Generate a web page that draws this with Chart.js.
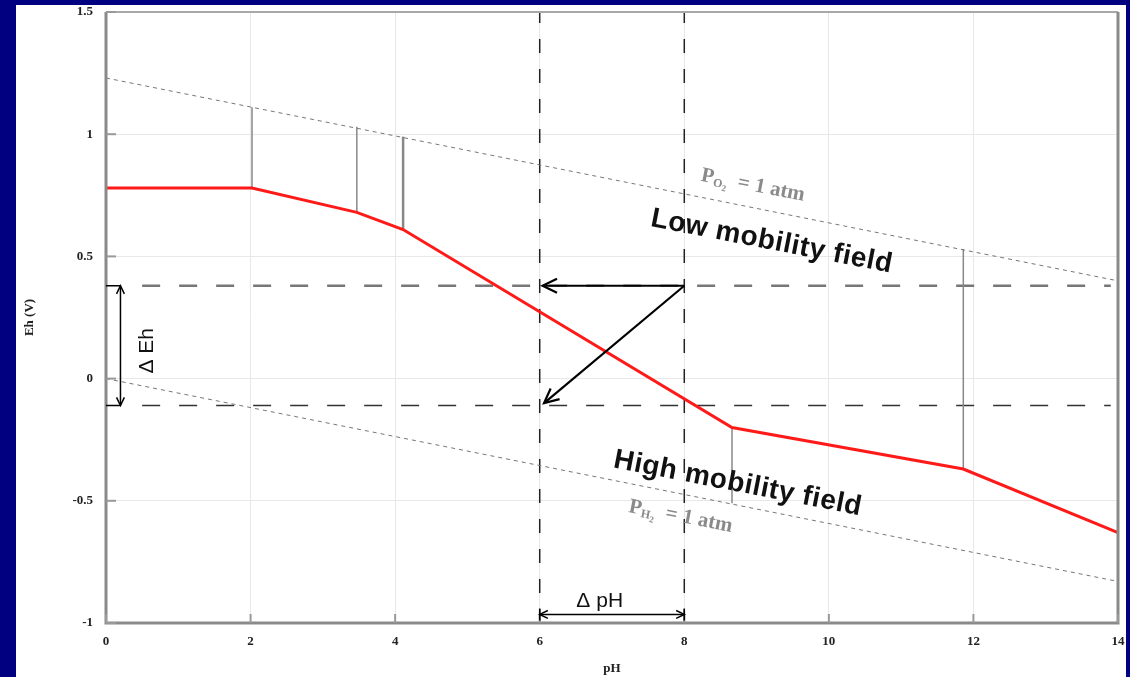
<!DOCTYPE html>
<html>
<head>
<meta charset="utf-8">
<script src="https://cdn.jsdelivr.net/npm/chart.js@4.4.0/dist/chart.umd.min.js"></script>
<style>
  html, body { margin: 0; padding: 0; background: #000080; }
  #wrap { width: 1130px; height: 677px; position: relative; }
</style>
</head>
<body>
<div id="wrap"><canvas id="c" width="1130" height="677"></canvas></div>
<script>
// Eh-pH diagram values
const phTicks = [0, 2, 4, 6, 8, 10, 12, 14];
const ehTicks = [-1, -0.5, 0, 0.5, 1, 1.5];

// red boundary curve
const curvePH = [0, 2.02, 3.47, 4.11, 8.66, 11.86, 14];
const curveEh = [0.78, 0.78, 0.68, 0.61, -0.2, -0.37, -0.63];

// water stability limits (PO2 = 1 atm / PH2 = 1 atm)
const limitPH = [0, 14];
const o2Eh = [1.23, 0.40];
const h2Eh = [0.0, -0.83];

// vertical species boundaries
const vertPH = [2.02, 3.47, 4.11, 8.66, 11.86];
const vertTop = [1.11, 1.03, 0.99, -0.2, 0.53];
const vertBottom = [0.78, 0.68, 0.61, -0.51, -0.37];

// delta window
const windowPH = [6, 8];
const windowEh = [0.38, -0.11];
const hLinePH = [0.5, 13.9];
const arrowToPH = [6.04, 6.06];
const arrowToEh = [0.38, -0.10];
const deltaEhPH = 0.2;
const deltaPhEh = -0.965;

const pts = (xs, ys) => xs.map((x, i) => ({ x: x, y: ys[i] }));

const datasets = [];
datasets.push({ data: pts(curvePH, curveEh), borderColor: '#ff1a1a', borderWidth: 3 });
datasets.push({ data: pts(limitPH, o2Eh), borderColor: '#777', borderWidth: 1, borderDash: [4, 4] });
datasets.push({ data: pts(limitPH, h2Eh), borderColor: '#777', borderWidth: 1, borderDash: [4, 4] });
vertPH.forEach((p, i) => {
  datasets.push({
    data: [{ x: p, y: vertBottom[i] }, { x: p, y: vertTop[i] }],
    borderColor: '#888', borderWidth: i === 2 ? 2.5 : 1.5
  });
});
windowPH.forEach(p => {
  datasets.push({
    data: [{ x: p, y: -1 }, { x: p, y: 1.5 }],
    borderColor: '#222', borderWidth: 1.5, borderDash: [14, 16]
  });
});
datasets.push({ data: pts(hLinePH, [windowEh[0], windowEh[0]]), borderColor: '#777', borderWidth: 2.5, borderDash: [18, 19] });
datasets.push({ data: pts(hLinePH, [windowEh[1], windowEh[1]]), borderColor: '#333', borderWidth: 1.5, borderDash: [18, 19] });
datasets.forEach(d => { d.showLine = true; d.pointRadius = 0; d.fill = false; });

function arrowHead(ctx, x1, y1, x2, y2, len) {
  const a = Math.atan2(y2 - y1, x2 - x1);
  const w = 0.45;
  ctx.beginPath();
  ctx.moveTo(x2 - len * Math.cos(a - w), y2 - len * Math.sin(a - w));
  ctx.lineTo(x2, y2);
  ctx.lineTo(x2 - len * Math.cos(a + w), y2 - len * Math.sin(a + w));
  ctx.stroke();
}

function rotText(ctx, parts, cx, cy, deg, spacing) {
  // parts: [text, font, dy]
  ctx.save();
  ctx.translate(cx, cy);
  ctx.rotate(deg * Math.PI / 180);
  ctx.letterSpacing = (spacing || 0) + 'px';
  let total = 0;
  parts.forEach(p => { ctx.font = p[1]; total += ctx.measureText(p[0]).width; });
  let x = -total / 2;
  ctx.textBaseline = 'middle';
  ctx.textAlign = 'left';
  parts.forEach(p => {
    ctx.font = p[1];
    ctx.fillText(p[0], x, p[2] || 0);
    x += ctx.measureText(p[0]).width;
  });
  ctx.restore();
}

const decor = {
  id: 'decor',
  beforeDraw(chart) {
    const ctx = chart.ctx;
    ctx.save();
    ctx.fillStyle = '#000080';
    ctx.fillRect(0, 0, chart.width, chart.height);
    ctx.fillStyle = '#ffffff';
    ctx.fillRect(16, 5, 1110, 672);
    ctx.restore();
  },
  afterDatasetsDraw(chart) {
    const ctx = chart.ctx;
    const xs = chart.scales.x, ys = chart.scales.y;
    const a = chart.chartArea;
    const X = v => xs.getPixelForValue(v), Y = v => ys.getPixelForValue(v);
    ctx.save();

    // frame
    ctx.strokeStyle = '#a8a8a8';
    ctx.lineWidth = 2;
    ctx.beginPath(); ctx.moveTo(a.left, a.top); ctx.lineTo(a.right, a.top); ctx.stroke();
    ctx.strokeStyle = '#8a8a8a';
    ctx.lineWidth = 3;
    ctx.beginPath();
    ctx.moveTo(a.left, a.top); ctx.lineTo(a.left, a.bottom); ctx.lineTo(a.right, a.bottom); ctx.lineTo(a.right, a.top);
    ctx.stroke();
    // inward ticks
    ctx.strokeStyle = '#999';
    ctx.lineWidth = 2;
    phTicks.forEach(t => { ctx.beginPath(); ctx.moveTo(X(t), a.bottom); ctx.lineTo(X(t), a.bottom - 9); ctx.stroke(); });
    ehTicks.forEach(t => { ctx.beginPath(); ctx.moveTo(a.left, Y(t)); ctx.lineTo(a.left + 10, Y(t)); ctx.stroke(); });

    // main arrows
    ctx.strokeStyle = '#000';
    ctx.lineWidth = 2.2;
    const fx = X(windowPH[1]), fy = Y(windowEh[0]);
    arrowToPH.forEach((p, i) => {
      const tx = X(p), ty = Y(arrowToEh[i]);
      ctx.beginPath(); ctx.moveTo(fx, fy); ctx.lineTo(tx, ty); ctx.stroke();
      arrowHead(ctx, fx, fy, tx, ty, 16);
    });

    // delta Eh
    ctx.lineWidth = 1.5;
    const ex = X(deltaEhPH), e1 = Y(windowEh[0]), e2 = Y(windowEh[1]);
    ctx.beginPath();
    ctx.moveTo(a.left, e1); ctx.lineTo(ex, e1);
    ctx.moveTo(a.left, e2); ctx.lineTo(ex, e2);
    ctx.moveTo(ex, e1); ctx.lineTo(ex, e2);
    ctx.stroke();
    arrowHead(ctx, ex, e2, ex, e1, 9);
    arrowHead(ctx, ex, e1, ex, e2, 9);

    // delta pH
    const py = Y(deltaPhEh), p1 = X(windowPH[0]), p2 = X(windowPH[1]);
    ctx.beginPath();
    ctx.moveTo(p1, py); ctx.lineTo(p2, py);
    ctx.moveTo(p1, py - 6); ctx.lineTo(p1, py + 6);
    ctx.moveTo(p2, py - 6); ctx.lineTo(p2, py + 6);
    ctx.stroke();
    arrowHead(ctx, p2, py, p1, py, 9);
    arrowHead(ctx, p1, py, p2, py, 9);

    // labels
    ctx.fillStyle = '#111';
    const sans = '"Liberation Sans", Arial, sans-serif';
    const serif = '"Liberation Serif", "Times New Roman", serif';
    rotText(ctx, [['Low mobility field', 'bold 28px ' + sans]], X(9.21), Y(0.56), 11, 0.5);
    rotText(ctx, [['High mobility field', 'bold 28px ' + sans]], X(8.74), Y(-0.43), 11, 0.5);
    rotText(ctx, [['\u0394 pH', '21px ' + sans]], X(6.83), Y(-0.91), 0);
    rotText(ctx, [['\u0394 Eh', '21px ' + sans]], X(0.57), Y(0.114), -90);
    ctx.fillStyle = '#8a8a8a';
    rotText(ctx, [
      ['P', 'bold 21px ' + serif, 0],
      ['O', 'bold 12px ' + serif, 5],
      ['2', 'bold 9px ' + serif, 9],
      ['  = 1 atm', 'bold 21px ' + serif, 0]
    ], X(8.95), Y(0.79), 11);
    rotText(ctx, [
      ['P', 'bold 21px ' + serif, 0],
      ['H', 'bold 12px ' + serif, 5],
      ['2', 'bold 9px ' + serif, 9],
      ['  = 1 atm', 'bold 21px ' + serif, 0]
    ], X(7.95), Y(-0.565), 11);
    ctx.restore();
  }
};

const tickFont = { family: '"Liberation Serif", "Times New Roman", serif', size: 13, weight: 'bold' };

new Chart(document.getElementById('c'), {
  type: 'scatter',
  data: { datasets: datasets },
  options: {
    responsive: false,
    animation: false,
    events: [],
    layout: { padding: { left: 0, right: 12, top: 12, bottom: 0 } },
    plugins: { legend: { display: false }, tooltip: { enabled: false } },
    scales: {
      x: {
        type: 'linear', min: 0, max: 14,
        afterFit: s => { s.height = 54; s.paddingLeft = 0; s.paddingRight = 0; },
        afterBuildTicks: s => { s.ticks = phTicks.map(v => ({ value: v })); },
        ticks: { font: tickFont, color: '#222', padding: 11, maxRotation: 0, callback: v => String(v) },
        grid: { color: '#e8e8e8', lineWidth: 1, drawTicks: false },
        border: { display: false },
        title: { display: true, text: 'pH', font: tickFont, color: '#222', padding: { top: 1, bottom: 1 } }
      },
      y: {
        type: 'linear', min: -1, max: 1.5,
        afterFit: s => { s.width = 106; s.paddingTop = 0; s.paddingBottom = 0; },
        afterBuildTicks: s => { s.ticks = ehTicks.map(v => ({ value: v })); },
        ticks: { font: tickFont, color: '#222', padding: 13, callback: v => String(v) },
        grid: { color: '#e8e8e8', lineWidth: 1, drawTicks: false },
        border: { display: false },
        title: { display: true, text: 'Eh (V)', font: tickFont, color: '#222', padding: { top: 22, bottom: 0 } }
      }
    }
  },
  plugins: [decor]
});
</script>
</body>
</html>
